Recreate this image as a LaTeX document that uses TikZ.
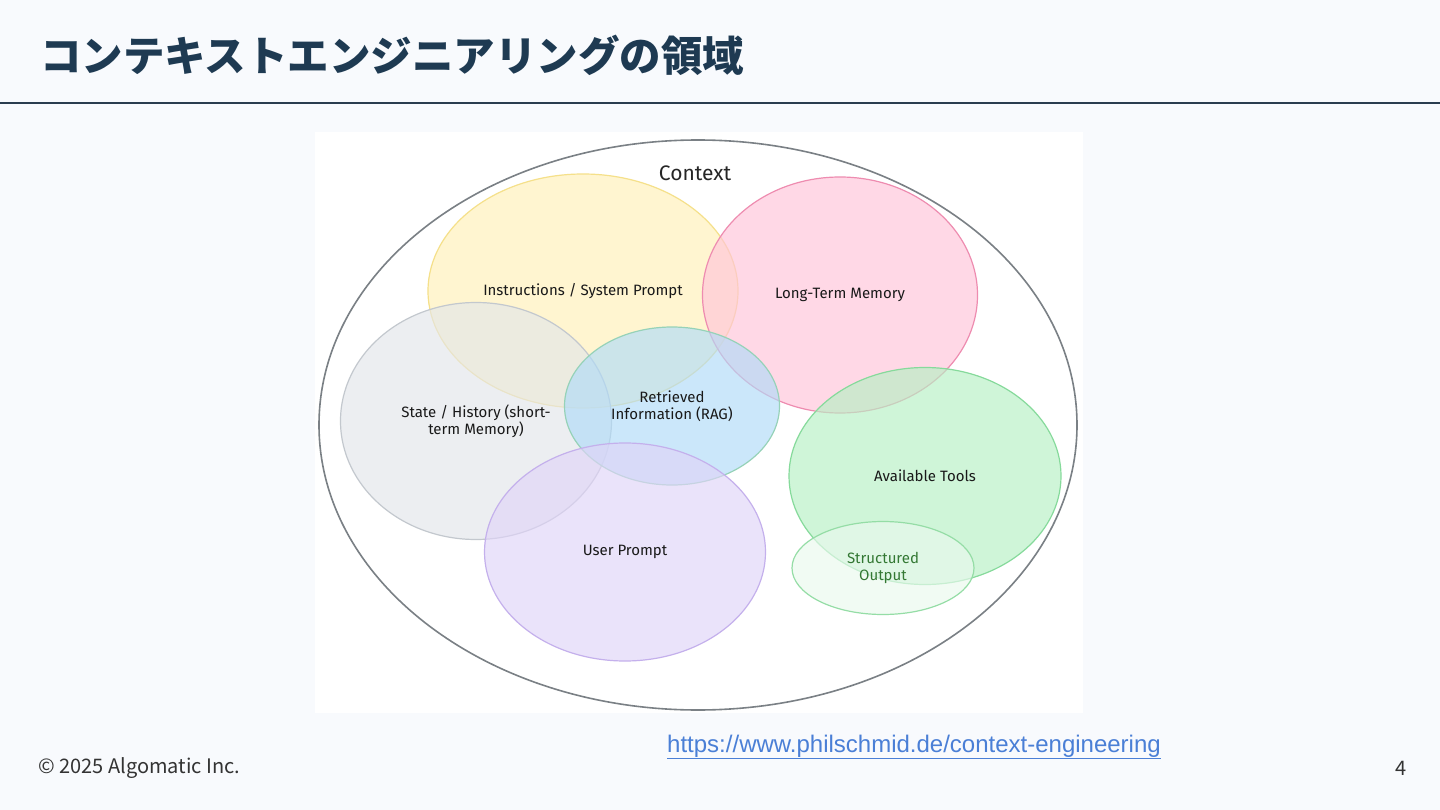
\documentclass[tikz,border=0pt]{standalone}
\usepackage{fontspec}
\setmainfont{Fira Sans}
\newfontfamily\jp{Noto Sans CJK JP}
\newfontfamily\urlfont{Liberation Sans}
\usetikzlibrary{shapes.geometric}
\definecolor{bg}{HTML}{F8FAFD}
\definecolor{titlec}{HTML}{1E3A52}
\definecolor{rulec}{HTML}{2A3D4F}
\definecolor{ctxc}{HTML}{7A8085}
\definecolor{linkc}{HTML}{4A7FD6}
\definecolor{ylwF}{HTML}{FFF0B8}\definecolor{ylwD}{HTML}{F5E08A}
\definecolor{pnkF}{HTML}{FFC4DA}\definecolor{pnkD}{HTML}{EE8CB0}
\definecolor{gryF}{HTML}{E3E6EA}\definecolor{gryD}{HTML}{C3C8CE}
\definecolor{bluF}{HTML}{B0DBF8}\definecolor{bluD}{HTML}{96D2B8}
\definecolor{purF}{HTML}{E0D4F8}\definecolor{purD}{HTML}{C4B0EC}
\definecolor{grnF}{HTML}{B6F0C4}\definecolor{grnD}{HTML}{86DA9B}
\definecolor{soF}{HTML}{EAF9EE}\definecolor{soD}{HTML}{95DDA6}
\tikzset{
  blob/.style={ellipse, inner sep=0pt, outer sep=0pt, line width=1.2pt,
    fill opacity=0.65, text opacity=1, font=\fontsize{15}{17}\selectfont, align=center, text=black!90},
}
\begin{document}
\begin{tikzpicture}[x=1pt,y=-1pt]
\fill[bg] (0,0) rectangle (1440,810);
\useasboundingbox (0,0) rectangle (1440,810);
% title
\node[anchor=west, text=titlec, font=\jp\bfseries\fontsize{41.5}{45}\selectfont, inner sep=0pt] (title) at (40,55) {コンテキストエンジニアリングの領域};
\draw[rulec, line width=1.5pt] (0,103) -- (1440,103);
% image panel
\fill[white] (315,132) rectangle (1083,713);
% context ellipse
\node[ellipse, draw=ctxc, line width=1.6pt, minimum width=758pt, minimum height=570pt, inner sep=0pt] (ctx) at (698,425) {};
\node[font=\fontsize{21}{23}\selectfont, text=black!85] (ctxl) at (695,173) {Context};
% blobs
\node[blob, fill=ylwF, draw=ylwD, minimum width=310pt, minimum height=234pt] (ins) at (583,291) {Instructions / System Prompt};
\node[blob, fill=pnkF, draw=pnkD, minimum width=275pt, minimum height=236pt] (ltm) at (840,295) {Long-Term Memory};
\node[blob, fill=gryF, draw=gryD, minimum width=271pt, minimum height=237pt] (st) at (476,421) {State / History (short-\\term Memory)};
\node[blob, fill=bluF, draw=bluD, minimum width=215pt, minimum height=158pt] (rag) at (672,406) {Retrieved\\Information (RAG)};
\node[blob, fill=purF, draw=purD, minimum width=281pt, minimum height=218pt] (up) at (625,552) {User Prompt};
\node[blob, fill=grnF, draw=grnD, minimum width=272pt, minimum height=217pt] (tools) at (925,476) {Available Tools};
\node[blob, fill=soF, draw=soD, minimum width=182pt, minimum height=93pt, text=black!55!green!60!gray] (so) at (883,568) {Structured\\Output};
% footer
\node[anchor=west, font=\jp\fontsize{20}{22}\selectfont, text=black!80, inner sep=0pt] (copy) at (38,768) {© 2025 Algomatic Inc.};
\node[anchor=east, font=\jp\fontsize{20}{22}\selectfont, text=black!80, inner sep=0pt] (page) at (1407,768) {4};
\node[anchor=west, font=\urlfont\fontsize{24}{26}\selectfont, text=linkc, inner sep=0pt] (url) at (667,747) {\underline{https://www.philschmid.de/context-engineering}};
\end{tikzpicture}
\end{document}
